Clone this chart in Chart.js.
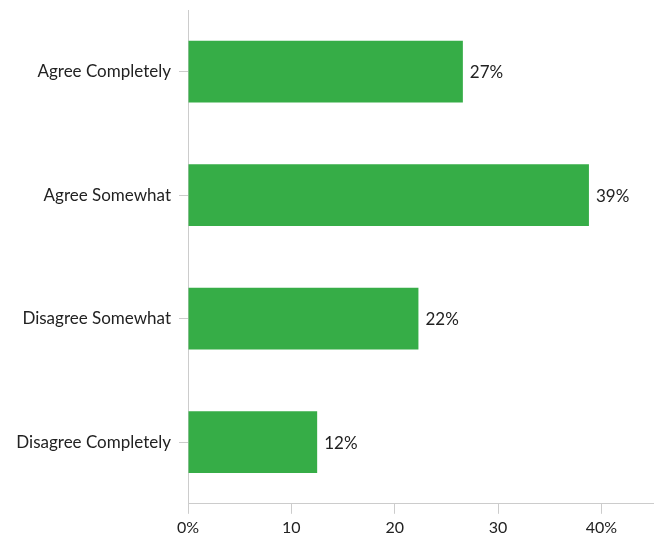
<!DOCTYPE html>
<html>
<head>
<meta charset="utf-8">
<script src="https://cdn.jsdelivr.net/npm/chart.js@4"></script>
<style>
  html, body { margin: 0; padding: 0; background: #fff; }
  #wrap { width: 659px; height: 542px; }
</style>
</head>
<body>
<div id="wrap"><canvas id="myChart" width="659" height="542"></canvas></div>
<script>
let categories = ['Agree Completely', 'Agree Somewhat', 'Disagree Somewhat', 'Disagree Completely'];
let values = [26.6, 38.8, 22.3, 12.5];
let valueLabels = ['27%', '39%', '22%', '12%'];
let xTicks = [0, 10, 20, 30, 40];

// draws the percentage next to each bar
let barLabels = {
  id: 'barLabels',
  afterDatasetsDraw(chart) {
    let ctx = chart.ctx;
    ctx.save();
    ctx.fillStyle = '#222';
    ctx.font = '17px Lato, "Open Sans", sans-serif';
    ctx.textBaseline = 'middle';
    chart.getDatasetMeta(0).data.forEach((bar, i) => {
      ctx.fillText(valueLabels[i], bar.x + 7, bar.y + 1);
    });
    ctx.restore();
  }
};

let ctx = document.getElementById('myChart').getContext('2d');
let myChart = new Chart(ctx, {
  type: 'bar',
  data: {
    labels: categories,
    datasets: [{
      data: values,
      backgroundColor: '#36ad47',
      barPercentage: 0.5,
      categoryPercentage: 1.0
    }]
  },
  plugins: [barLabels],
  options: {
    indexAxis: 'y',
    responsive: false,
    animation: false,
    layout: { padding: { top: 10, right: 6, left: 0, bottom: 1 } },
    plugins: {
      legend: { display: false },
      tooltip: { enabled: false }
    },
    scales: {
      x: {
        min: 0,
        max: 45,
        afterBuildTicks: (axis) => {
          axis.ticks = xTicks.map(v => ({ value: v }));
        },
        ticks: {
          color: '#222',
          font: { family: 'Lato, "Open Sans", sans-serif', size: 16 },
          padding: 4,
          callback: (v) => (v === 0 || v === 40) ? v + '%' : v
        },
        grid: {
          drawOnChartArea: false,
          drawTicks: true,
          tickLength: 10,
          color: '#ccc'
        },
        border: { color: '#ccc' }
      },
      y: {
        afterFit: (axis) => {
          axis.width = 188;
          axis.paddingTop = 0;
          axis.paddingBottom = 0;
        },
        ticks: {
          color: '#222',
          font: { family: 'Lato, "Open Sans", sans-serif', size: 17 },
          padding: 8
        },
        grid: {
          drawOnChartArea: false,
          drawTicks: true,
          tickLength: 9,
          offset: false,
          color: '#ccc'
        },
        border: { color: '#ccc' }
      }
    }
  }
});
</script>
</body>
</html>
